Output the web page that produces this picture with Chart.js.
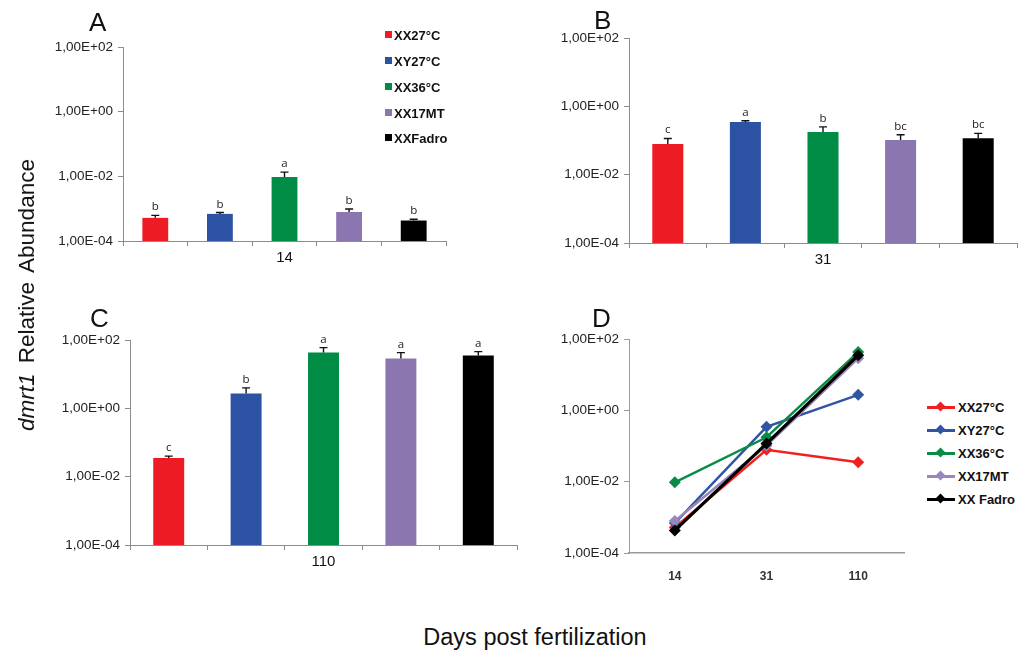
<!DOCTYPE html>
<html>
<head>
<meta charset="utf-8">
<script src="https://cdn.jsdelivr.net/npm/chart.js@4/dist/chart.umd.min.js"></script>
<style>
  html,body{margin:0;padding:0;background:#fff;}
  #wrap{position:relative;width:1019px;height:651px;overflow:hidden;font-family:"Liberation Sans",Arial,sans-serif;color:#111;}
  .cv{position:absolute;}
  .letter{position:absolute;font-size:26px;line-height:26px;color:#111;}
  .leg{position:absolute;font-weight:bold;font-size:13px;color:#111;white-space:nowrap;}
  .leg .row{position:absolute;left:0;height:16px;line-height:16px;}
  .sq{display:inline-block;width:7px;height:7px;vertical-align:middle;margin-right:2px;position:relative;top:-2px;}
  .ln{display:inline-block;width:28px;height:3px;vertical-align:middle;position:relative;top:-1px;margin-right:3px;}
  .ln i{position:absolute;left:10px;top:-3px;width:7px;height:7px;transform:rotate(45deg);}
  #ytitle{position:absolute;left:27px;top:295px;transform:translate(-50%,-50%) rotate(-90deg);font-size:22.5px;white-space:nowrap;word-spacing:4px;}
  #xtitle{position:absolute;left:535px;top:637px;transform:translate(-50%,-50%);font-size:23.5px;white-space:nowrap;}
</style>
</head>
<body>
<div id="wrap">
  <canvas id="cA" class="cv" style="left:0;top:30px;width:460px;height:240px" width="460" height="240"></canvas>
  <canvas id="cB" class="cv" style="left:500px;top:20px;width:519px;height:250px" width="519" height="250"></canvas>
  <canvas id="cC" class="cv" style="left:0;top:320px;width:530px;height:260px" width="530" height="260"></canvas>
  <canvas id="cD" class="cv" style="left:540px;top:320px;width:370px;height:270px" width="370" height="270"></canvas>
  <div class="letter" style="left:89px;top:9px">A</div>
  <div class="letter" style="left:594px;top:7px">B</div>
  <div class="letter" style="left:90px;top:305px">C</div>
  <div class="letter" style="left:592px;top:305px">D</div>
  <div id="legA" class="leg" style="left:385px;top:0"></div>
  <div id="legD" class="leg" style="left:927px;top:0"></div>
  <div id="ytitle"><i>dmrt1</i> Relative Abundance</div>
  <div id="xtitle">Days post fertilization</div>
</div>
<script>
// ---- data ----
const groups = ['XX27°C', 'XY27°C', 'XX36°C', 'XX17MT', 'XXFadro'];
const lineLegend = ['XX27°C', 'XY27°C', 'XX36°C', 'XX17MT', 'XX Fadro'];
const days = ['14', '31', '110'];
const day14 = [5.2e-4, 6.9e-4, 9.6e-3, 7.9e-4, 4.3e-4];
const err14 = [1.0e-4, 0.7e-4, 3.9e-3, 1.9e-4, 0.4e-4];
const day31 = [0.0785, 0.345, 0.176, 0.103, 0.117];
const err31 = [0.036, 0.035, 0.074, 0.045, 0.045];
const day110 = [0.035, 2.73, 43, 28.8, 35];
const err110 = [0.005, 1.25, 17, 14, 10.7];
const letters14 = ['b', 'b', 'a', 'b', 'b'];
const letters31 = ['c', 'a', 'b', 'bc', 'bc'];
const letters110 = ['c', 'b', 'a', 'a', 'a'];
const yTickValues = [1e-4, 1e-2, 1, 100];

const barColors = ['#ED1C24', '#2E52A3', '#008C45', '#8C76AF', '#000000'];
const lineColors = ['#F0201F', '#2F55A4', '#0A8C46', '#9A86BF', '#000000'];

function fmtE(v) {
  const e = Math.round(Math.log10(v));
  const m = v / Math.pow(10, e);
  const sign = e < 0 ? '-' : '+';
  return m.toFixed(2).replace('.', ',') + 'E' + sign + String(Math.abs(e)).padStart(2, '0');
}

const errPlugin = {
  id: 'errbars',
  afterDatasetsDraw(chart, args, opts) {
    if (!opts || !opts.err) return;
    const ctx = chart.ctx, meta = chart.getDatasetMeta(0), ys = chart.scales.y;
    const vals = chart.data.datasets[0].data;
    ctx.save();
    meta.data.forEach((bar, i) => {
      const top = ys.getPixelForValue(vals[i] + opts.err[i]);
      ctx.strokeStyle = '#111'; ctx.lineWidth = 1.4;
      ctx.beginPath();
      ctx.moveTo(bar.x, bar.y); ctx.lineTo(bar.x, top);
      ctx.moveTo(bar.x - 4, top); ctx.lineTo(bar.x + 4, top);
      ctx.stroke();
      ctx.fillStyle = '#222';
      ctx.font = '11.5px "Open Sans", "Liberation Sans", sans-serif';
      ctx.textAlign = 'center'; ctx.textBaseline = 'alphabetic';
      ctx.fillText(opts.letters[i], bar.x, top - 5);
    });
    ctx.restore();
  }
};

function barChart(id, values, err, letters, dayIdx, yW, padTop, padRight, xH) {
  return new Chart(document.getElementById(id), {
    type: 'bar',
    data: {
      labels: groups,
      datasets: [{ data: values, backgroundColor: barColors, borderWidth: 0,
                   barPercentage: 0.4, categoryPercentage: 1.0 }]
    },
    options: {
      responsive: false, animation: false, devicePixelRatio: 1,
      layout: { padding: { top: padTop, right: padRight, left: 0, bottom: 0 } },
      plugins: { legend: { display: false }, tooltip: { enabled: false },
                 errbars: { err: err, letters: letters } },
      scales: {
        x: {
          type: 'category', offset: true,
          grid: { display: true, offset: true, drawOnChartArea: false, tickLength: 5, color: '#8c8c8c', lineWidth: 1 },
          border: { display: true, color: '#8c8c8c', width: 1 },
          ticks: { autoSkip: false, maxRotation: 0, padding: 3, color: '#111',
                   font: { family: '"Liberation Sans", Arial', size: 15 },
                   callback: (v, i) => (i === 2 ? days[dayIdx] : '') },
          afterFit: s => { s.height = xH; }
        },
        y: {
          type: 'logarithmic', min: 1e-4, max: 100,
          afterBuildTicks: s => { s.ticks = yTickValues.map(v => ({ value: v })); },
          grid: { display: true, drawOnChartArea: false, tickLength: 5, color: '#8c8c8c' },
          border: { display: true, color: '#8c8c8c', width: 1 },
          ticks: { padding: 5, color: '#222', font: { family: '"Liberation Sans", Arial', size: 13.5 },
                   callback: v => fmtE(v) },
          afterFit: s => { s.width = yW; }
        }
      }
    },
    plugins: [errPlugin]
  });
}

barChart('cA', day14, err14, letters14, 0, 123, 17, 14, 29);
barChart('cB', day31, err31, letters31, 1, 129, 18, 2, 27);
barChart('cC', day110, err110, letters110, 2, 130, 20, 13, 35);

// ---- line chart D ----
const series = [0, 1, 2, 3, 4].map(i => [day14[i], day31[i], day110[i]]);
new Chart(document.getElementById('cD'), {
  type: 'line',
  data: {
    labels: days,
    datasets: series.map((d, i) => ({
      label: lineLegend[i], data: d, borderColor: lineColors[i], backgroundColor: lineColors[i],
      borderWidth: i === 4 ? 3.2 : 2.4, pointStyle: 'rectRot', pointRadius: 6, pointBorderWidth: 0,
      pointBackgroundColor: lineColors[i], tension: 0, order: 4 - i
    }))
  },
  options: {
    responsive: false, animation: false, devicePixelRatio: 1,
    layout: { padding: { top: 19, right: 6, left: 0, bottom: 0 } },
    plugins: { legend: { display: false }, tooltip: { enabled: false } },
    scales: {
      x: {
        type: 'category', offset: true,
        grid: { display: false },
        border: { display: true, color: '#9a9a9a', width: 1.5 },
        ticks: { padding: 8, color: '#333', font: { family: '"Liberation Sans", Arial', size: 12, weight: 'bold' } },
        afterFit: s => { s.height = 37; }
      },
      y: {
        type: 'logarithmic', min: 1e-4, max: 100,
        afterBuildTicks: s => { s.ticks = yTickValues.map(v => ({ value: v })); },
        grid: { display: true, drawOnChartArea: false, tickLength: 5, color: '#9a9a9a' },
        border: { display: true, color: '#9a9a9a', width: 1 },
        ticks: { padding: 5, color: '#222', font: { family: '"Liberation Sans", Arial', size: 13.5 },
                 callback: v => fmtE(v) },
        afterFit: s => { s.width = 89; }
      }
    }
  }
});

// ---- legends ----
const legA = document.getElementById('legA');
const rowsA = [36, 62, 88, 114, 139];
groups.forEach((g, i) => {
  const r = document.createElement('div'); r.className = 'row'; r.style.top = (rowsA[i] - 8) + 'px';
  r.innerHTML = '<span class="sq" style="background:' + barColors[i] + '"></span>' + g;
  legA.appendChild(r);
});
const legD = document.getElementById('legD');
const rowsD = [408, 431, 454, 477, 500];
lineLegend.forEach((g, i) => {
  const r = document.createElement('div'); r.className = 'row'; r.style.top = (rowsD[i] - 8) + 'px';
  r.innerHTML = '<span class="ln" style="background:' + lineColors[i] + '"><i style="background:' + lineColors[i] + '"></i></span>' + g;
  legD.appendChild(r);
});
</script>
</body>
</html>
